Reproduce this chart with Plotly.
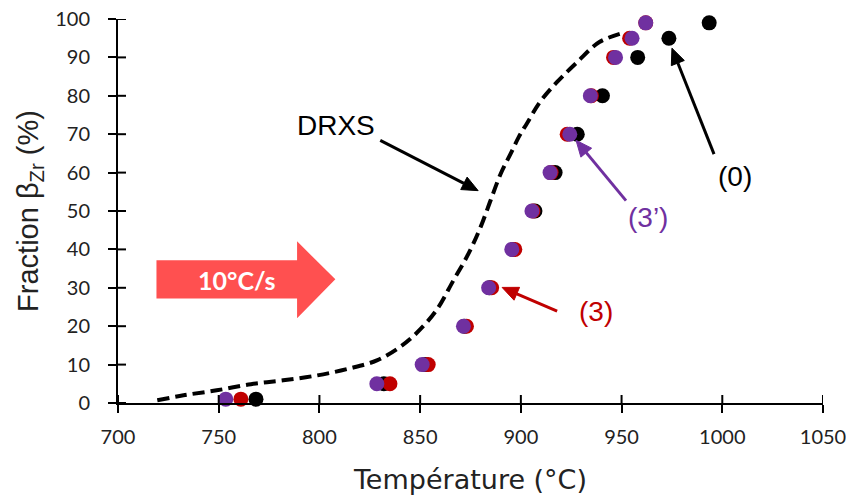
import math
import plotly.graph_objects as go

# ---- data ----
fraction = [1, 5, 10, 20, 30, 40, 50, 60, 70, 80, 90, 95, 99]
temp_0 = [768.5, 832, 852.5, 872, 884.5, 896, 907, 917, 928, 940.5, 958, 973.5, 993.5]
temp_3 = [761, 835, 854, 873, 885.5, 897, 906, 915, 923, 935, 946, 954, 962]
temp_3p = [753.5, 828.5, 851, 871.5, 884, 895.5, 905.5, 914.5, 924.3, 934.5, 947, 955.2, 962]

drxs_temp = [719.5, 732.5, 749, 766, 782, 799, 815, 828.5, 840, 848, 858, 866.5,
             874, 880, 885, 890, 895, 899, 903, 909.5, 918, 928, 939, 951]
drxs_frac = [0.7, 2.0, 3.3, 4.9, 5.9, 7.2, 9.0, 11.1, 14.6, 18.1, 24.1, 31.9,
             38.9, 45.8, 52.8, 59.7, 65.0, 69.3, 72.8, 78.4, 83.6, 88.8, 94.0, 96.4]

x_ticks = [700, 750, 800, 850, 900, 950, 1000, 1050]
y_ticks = [0, 10, 20, 30, 40, 50, 60, 70, 80, 90, 100]
X_RANGE = [700, 1050]
Y_RANGE = [0, 100]

BLACK = "#000000"
RED = "#C00000"
PURPLE = "#7030A0"
ARROW_FILL = "#FF5050"

W, H = 854, 501
M_L, M_R, M_T, M_B = 110, 39, 11, 106
PLOT_W = W - M_L - M_R
PLOT_H = H - M_T - M_B
KX = PLOT_W / (X_RANGE[1] - X_RANGE[0])   # px per data unit
KY = PLOT_H / (Y_RANGE[1] - Y_RANGE[0])

fig = go.Figure()

fig.add_trace(go.Scatter(
    x=drxs_temp, y=drxs_frac, mode="lines", name="DRXS",
    line=dict(color=BLACK, width=4, dash="12px,6px", shape="spline"),
    showlegend=False, cliponaxis=False))

for xs, col, nm in [(temp_0, BLACK, "(0)"), (temp_3, RED, "(3)"), (temp_3p, PURPLE, "(3')")]:
    fig.add_trace(go.Scatter(
        x=xs, y=fraction, mode="markers", name=nm,
        marker=dict(color=col, size=15, line=dict(width=0)),
        showlegend=False, cliponaxis=False))

tickfont = dict(family="Lato", size=20, color="#222222")

fig.update_layout(
    width=W, height=H,
    margin=dict(l=M_L, r=M_R, t=M_T, b=M_B, autoexpand=False),
    paper_bgcolor="white", plot_bgcolor="white",
    xaxis=dict(range=X_RANGE, tickvals=x_ticks, ticks="outside", ticklen=8,
               tickwidth=2, tickcolor=BLACK, showline=True, linecolor=BLACK,
               linewidth=2, showgrid=False, zeroline=False, tickfont=tickfont,
               ticklabelstandoff=7, ticklabeloverflow="allow", automargin=False,
               title=dict(text="Température (°C)",
                          font=dict(family="DejaVu Sans", size=27, color="#222222"),
                          standoff=23)),
    yaxis=dict(range=Y_RANGE, tickvals=y_ticks, ticks="outside", ticklen=8,
               tickwidth=2, tickcolor=BLACK, showline=True, linecolor=BLACK,
               linewidth=2, showgrid=False, zeroline=False, tickfont=tickfont,
               ticklabelstandoff=14, ticklabeloverflow="allow", automargin=False,
               title=dict(text="Fraction β<sub>Zr</sub> (%)",
                          font=dict(family="Liberation Sans", size=29, color="#222222"),
                          standoff=8)),
)

# inside halves of the crossing tick marks
for v in x_ticks:
    fig.add_shape(type="line", xref="x", yref="y", ysizemode="pixel", yanchor=Y_RANGE[0],
                  x0=v, x1=v, y0=0, y1=8, line=dict(color=BLACK, width=2))
for v in y_ticks:
    fig.add_shape(type="line", xref="x", yref="y", xsizemode="pixel", xanchor=X_RANGE[0],
                  x0=0, x1=8, y0=v, y1=v, line=dict(color=BLACK, width=2))

# block arrow "10°C/s"
fig.add_shape(type="path", xref="x", yref="y",
              path="M719.1,37.2 L788.9,37.2 L788.9,42.1 L807.9,32.2 L788.9,22.1 L788.9,27.2 L719.1,27.2 Z",
              fillcolor=ARROW_FILL, line=dict(width=0), layer="below")
fig.add_annotation(x=759, y=32.1, xref="x", yref="y", text="<b>10°C/s</b>",
                   showarrow=False, font=dict(family="Lato", size=25, color="white"))

label_font = "Liberation Sans"
fig.add_annotation(x=808.0, y=72.2, xref="x", yref="y", text="DRXS", showarrow=False,
                   font=dict(family=label_font, size=28, color=BLACK))
fig.add_annotation(x=1006.3, y=59.1, xref="x", yref="y", text="(0)", showarrow=False,
                   font=dict(family=label_font, size=28, color=BLACK))
fig.add_annotation(x=963.1, y=48.4, xref="x", yref="y", text="(3’)", showarrow=False,
                   font=dict(family=label_font, size=28, color=PURPLE))
fig.add_annotation(x=937.4, y=23.7, xref="x", yref="y", text="(3)", showarrow=False,
                   font=dict(family=label_font, size=28, color=RED))

# pointer arrows: (tip x, tip y, tail x, tail y, colour)
arrows = [
    (878.8, 55.3, 830.2, 68.4, BLACK),
    (975.0, 92.4, 995.9, 64.8, BLACK),
    (927.4, 68.4, 952.2, 52.7, PURPLE),
    (890.7, 30.1, 918.0, 23.9, RED),
]
HEAD_L, HEAD_W = 16, 7
for tx, ty, sx, sy, col in arrows:
    px, py = (sx - tx) * KX, (sy - ty) * KY
    n = math.hypot(px, py)
    ux, uy = px / n, py / n
    bx, by = HEAD_L * ux, HEAD_L * uy
    fig.add_shape(type="line", xref="x", yref="y",
                  x0=sx, y0=sy, x1=tx + bx / KX, y1=ty + by / KY,
                  line=dict(color=col, width=3))
    lx, ly = bx - HEAD_W * uy, by + HEAD_W * ux
    rx, ry = bx + HEAD_W * uy, by - HEAD_W * ux
    fig.add_shape(type="path", xref="x", yref="y", xsizemode="pixel", ysizemode="pixel",
                  xanchor=tx, yanchor=ty,
                  path=f"M0,0 L{lx:.2f},{ly:.2f} L{rx:.2f},{ry:.2f} Z",
                  fillcolor=col, line=dict(color=col, width=1))

fig.write_html("out.html")
